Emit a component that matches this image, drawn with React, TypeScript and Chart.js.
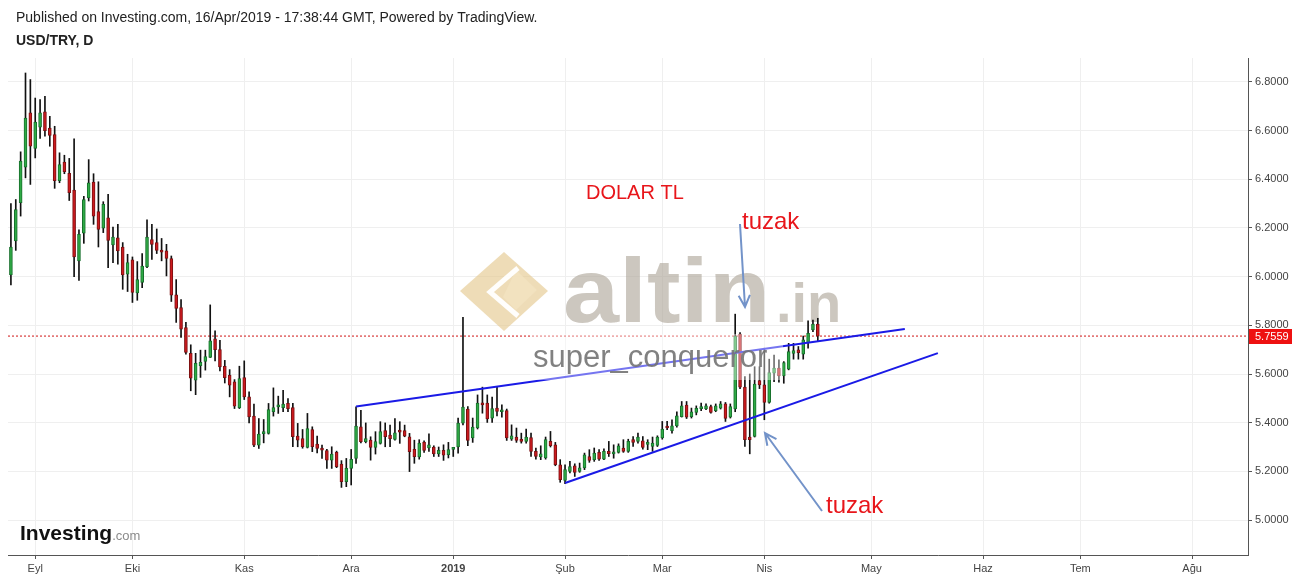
import React, { useEffect, useRef } from "react";
import { Chart, registerables } from "chart.js";
Chart.register(...registerables);

// Trading-day index of the first candle (0 = 3 Sep 2018)
const firstDay = -5;

const opens = [
  6.007, 6.147, 6.304, 6.450, 6.673, 6.527, 6.614, 6.677, 6.611, 6.584,
  6.395, 6.471, 6.425, 6.356, 6.065, 6.179, 6.324, 6.389, 6.267, 6.199,
  6.242, 6.130, 6.160, 6.122, 6.010, 6.069, 5.933, 5.976, 6.040, 6.152,
  6.140, 6.108, 6.106, 6.074, 5.925, 5.873, 5.791, 5.685, 5.575, 5.634,
  5.652, 5.668, 5.745, 5.700, 5.632, 5.595, 5.568, 5.462, 5.585, 5.506,
  5.427, 5.308, 5.355, 5.356, 5.445, 5.465, 5.462, 5.479, 5.462, 5.345,
  5.335, 5.298, 5.372, 5.312, 5.289, 5.285, 5.246, 5.278, 5.230, 5.158,
  5.212, 5.253, 5.383, 5.322, 5.328, 5.298, 5.315, 5.367, 5.349, 5.331,
  5.363, 5.367, 5.342, 5.290, 5.259, 5.320, 5.296, 5.300, 5.272, 5.286,
  5.268, 5.290, 5.300, 5.398, 5.456, 5.337, 5.378, 5.480, 5.480, 5.419,
  5.460, 5.445, 5.450, 5.332, 5.341, 5.330, 5.323, 5.339, 5.282, 5.259,
  5.255, 5.323, 5.309, 5.227, 5.163, 5.200, 5.223, 5.200, 5.214, 5.261,
  5.248, 5.278, 5.250, 5.282, 5.272, 5.278, 5.296, 5.282, 5.330, 5.323,
  5.325, 5.311, 5.302, 5.307, 5.337, 5.384, 5.367, 5.387, 5.425, 5.472,
  5.425, 5.442, 5.458, 5.456, 5.466, 5.449, 5.460, 5.477, 5.423, 5.456,
  5.764, 5.546, 5.341, 5.343, 5.573, 5.555, 5.483, 5.603, 5.624, 5.592,
  5.620, 5.685, 5.699, 5.682, 5.729, 5.781, 5.805,
];
const highs = [
  6.300, 6.317, 6.513, 6.837, 6.810, 6.734, 6.728, 6.741, 6.659, 6.618,
  6.509, 6.499, 6.486, 6.566, 6.192, 6.330, 6.481, 6.423, 6.390, 6.308,
  6.338, 6.204, 6.215, 6.140, 6.092, 6.081, 6.062, 6.095, 6.234, 6.215,
  6.196, 6.157, 6.133, 6.085, 5.988, 5.906, 5.812, 5.720, 5.685, 5.698,
  5.698, 5.884, 5.777, 5.738, 5.656, 5.618, 5.577, 5.632, 5.654, 5.527,
  5.476, 5.417, 5.413, 5.479, 5.543, 5.509, 5.533, 5.499, 5.479, 5.397,
  5.372, 5.438, 5.383, 5.345, 5.308, 5.290, 5.301, 5.283, 5.244, 5.253,
  5.290, 5.465, 5.451, 5.399, 5.342, 5.363, 5.404, 5.399, 5.390, 5.417,
  5.404, 5.390, 5.356, 5.328, 5.330, 5.325, 5.354, 5.305, 5.300, 5.309,
  5.319, 5.296, 5.419, 5.833, 5.466, 5.419, 5.514, 5.546, 5.514, 5.505,
  5.548, 5.473, 5.456, 5.391, 5.378, 5.357, 5.374, 5.357, 5.296, 5.305,
  5.341, 5.364, 5.319, 5.248, 5.227, 5.241, 5.231, 5.234, 5.275, 5.289,
  5.296, 5.289, 5.292, 5.323, 5.309, 5.313, 5.330, 5.332, 5.343, 5.357,
  5.343, 5.330, 5.341, 5.346, 5.405, 5.405, 5.412, 5.445, 5.487, 5.487,
  5.460, 5.469, 5.480, 5.477, 5.472, 5.477, 5.487, 5.483, 5.477, 5.846,
  5.770, 5.589, 5.600, 5.630, 5.630, 5.706, 5.661, 5.678, 5.658, 5.651,
  5.726, 5.726, 5.713, 5.756, 5.819, 5.822, 5.829,
];
const lows = [
  5.966, 6.108, 6.249, 6.406, 6.379, 6.488, 6.568, 6.577, 6.536, 6.363,
  6.386, 6.423, 6.313, 6.000, 5.985, 6.137, 6.311, 6.215, 6.122, 6.181,
  6.037, 6.058, 6.051, 5.948, 5.939, 5.894, 5.903, 5.955, 6.037, 6.071,
  6.095, 6.065, 6.003, 5.898, 5.812, 5.750, 5.682, 5.531, 5.515, 5.586,
  5.616, 5.668, 5.654, 5.613, 5.563, 5.506, 5.458, 5.458, 5.495, 5.399,
  5.301, 5.294, 5.317, 5.353, 5.427, 5.438, 5.445, 5.445, 5.301, 5.301,
  5.295, 5.296, 5.281, 5.276, 5.253, 5.212, 5.212, 5.215, 5.134, 5.137,
  5.144, 5.233, 5.317, 5.317, 5.246, 5.271, 5.312, 5.301, 5.301, 5.328,
  5.315, 5.342, 5.199, 5.233, 5.250, 5.278, 5.282, 5.261, 5.261, 5.245,
  5.255, 5.261, 5.275, 5.391, 5.305, 5.319, 5.374, 5.439, 5.401, 5.401,
  5.428, 5.423, 5.327, 5.327, 5.319, 5.316, 5.316, 5.261, 5.250, 5.248,
  5.250, 5.300, 5.223, 5.155, 5.149, 5.193, 5.179, 5.196, 5.207, 5.237,
  5.241, 5.245, 5.248, 5.261, 5.254, 5.275, 5.278, 5.278, 5.302, 5.316,
  5.291, 5.289, 5.282, 5.302, 5.332, 5.371, 5.357, 5.382, 5.423, 5.417,
  5.419, 5.432, 5.449, 5.453, 5.439, 5.445, 5.456, 5.405, 5.419, 5.445,
  5.540, 5.302, 5.272, 5.341, 5.540, 5.412, 5.480, 5.569, 5.566, 5.562,
  5.617, 5.661, 5.661, 5.661, 5.706, 5.774, 5.737,
];
const closes = [
  6.122, 6.276, 6.475, 6.652, 6.536, 6.635, 6.673, 6.600, 6.580, 6.395,
  6.461, 6.431, 6.345, 6.081, 6.174, 6.317, 6.386, 6.249, 6.194, 6.297,
  6.149, 6.163, 6.106, 6.007, 6.058, 5.935, 5.988, 6.044, 6.163, 6.133,
  6.108, 6.101, 6.075, 5.924, 5.870, 5.784, 5.689, 5.583, 5.644, 5.648,
  5.672, 5.736, 5.700, 5.629, 5.585, 5.554, 5.468, 5.581, 5.506, 5.424,
  5.308, 5.353, 5.358, 5.454, 5.462, 5.468, 5.476, 5.458, 5.342, 5.328,
  5.301, 5.376, 5.301, 5.294, 5.287, 5.246, 5.271, 5.219, 5.158, 5.212,
  5.249, 5.386, 5.322, 5.335, 5.298, 5.322, 5.363, 5.342, 5.334, 5.358,
  5.361, 5.345, 5.281, 5.260, 5.316, 5.286, 5.309, 5.272, 5.286, 5.266,
  5.289, 5.292, 5.398, 5.464, 5.327, 5.382, 5.480, 5.473, 5.415, 5.458,
  5.446, 5.447, 5.337, 5.346, 5.327, 5.323, 5.341, 5.282, 5.261, 5.272,
  5.330, 5.305, 5.227, 5.166, 5.207, 5.220, 5.196, 5.214, 5.268, 5.245,
  5.275, 5.250, 5.282, 5.273, 5.274, 5.305, 5.282, 5.323, 5.319, 5.341,
  5.298, 5.315, 5.316, 5.341, 5.374, 5.378, 5.387, 5.428, 5.469, 5.423,
  5.445, 5.459, 5.462, 5.469, 5.442, 5.469, 5.477, 5.417, 5.466, 5.756,
  5.546, 5.330, 5.330, 5.559, 5.555, 5.483, 5.606, 5.624, 5.592, 5.647,
  5.692, 5.696, 5.688, 5.740, 5.767, 5.805, 5.7559,
];

const monthTicks = [0, 20, 43, 65, 86, 109, 129, 150, 172, 195, 215, 238];
const monthLabels = ["Eyl", "Eki", "Kas", "Ara", "2019", "Şub", "Mar", "Nis", "May", "Haz", "Tem", "Ağu"];
const priceTicks = [5.0, 5.2, 5.4, 5.6, 5.8, 6.0, 6.2, 6.4, 6.6, 6.8];
const lastPrice = 5.7559;

// drawn trend lines (trading-day index, price)
const resistanceX = [66, 178.9];
const resistanceY = [5.466, 5.785];
const supportX = [109, 185.7];
const supportY = [5.152, 5.686];

const FONT = "'Liberation Sans', Arial, sans-serif";

const headerPlugin = {
  id: "header",
  beforeDraw(chart: any) {
    const ctx = chart.ctx;
    ctx.save();
    ctx.fillStyle = "#ffffff";
    ctx.fillRect(0, 0, chart.width, chart.height);
    ctx.restore();
  },
  afterDraw(chart: any) {
    const ctx = chart.ctx;
    ctx.save();
    ctx.textBaseline = "alphabetic";
    ctx.textAlign = "left";
    ctx.fillStyle = "#222";
    ctx.font = `14px ${FONT}`;
    ctx.fillText("Published on Investing.com, 16/Apr/2019 - 17:38:44 GMT, Powered by TradingView.", 16, 22);
    ctx.font = `bold 14px ${FONT}`;
    ctx.fillText("USD/TRY, D", 16, 45);

    // last price tag on the axis
    const y = chart.scales.y.getPixelForValue(lastPrice);
    const x0 = chart.chartArea.right + 1;
    ctx.fillStyle = "#ee1111";
    ctx.fillRect(x0, Math.round(y) - 7, 43, 15);
    ctx.fillStyle = "#ffffff";
    ctx.font = `11px ${FONT}`;
    ctx.textBaseline = "middle";
    ctx.fillText(lastPrice.toFixed(4), x0 + 6, Math.round(y) + 0.5);
    ctx.restore();
  },
};

const watermarkPlugin = {
  id: "watermark",
  beforeDatasetsDraw(chart: any) {
    const ctx = chart.ctx;
    ctx.save();
    // logo
    ctx.fillStyle = "rgba(226,196,135,0.6)";
    ctx.beginPath();
    ctx.moveTo(504, 252);
    ctx.lineTo(548, 291);
    ctx.lineTo(504, 331);
    ctx.lineTo(460, 291);
    ctx.closePath();
    ctx.fill();
    ctx.fillStyle = "rgba(242,226,192,0.9)";
    ctx.beginPath();
    ctx.moveTo(516, 270);
    ctx.lineTo(537, 290);
    ctx.lineTo(516, 310);
    ctx.lineTo(503, 297);
    ctx.closePath();
    ctx.fill();
    ctx.strokeStyle = "rgba(255,255,255,0.95)";
    ctx.lineWidth = 5;
    ctx.beginPath();
    ctx.moveTo(518, 268);
    ctx.lineTo(490, 292);
    ctx.lineTo(518, 316);
    ctx.stroke();

    // "altin.in" text
    ctx.fillStyle = "rgba(170,162,148,0.6)";
    ctx.textBaseline = "alphabetic";
    ctx.textAlign = "left";
    ctx.save();
    ctx.translate(563, 322);
    ctx.scale(1.12, 1);
    ctx.font = `bold 90px ${FONT}`;
    ctx.fillText("altin", 0, 0);
    ctx.restore();
    ctx.font = `bold 56px ${FONT}`;
    ctx.fillText(".in", 776, 322);
    ctx.restore();
  },
  afterDatasetsDraw(chart: any) {
    const ctx = chart.ctx;
    ctx.save();
    // translucent text box
    ctx.fillStyle = "rgba(255,255,255,0.4)";
    ctx.fillRect(530, 334, 253, 46);
    ctx.fillStyle = "rgba(115,115,115,0.9)";
    ctx.font = `31px ${FONT}`;
    ctx.textBaseline = "alphabetic";
    ctx.fillText("super_conqueror", 533, 367);

    // red labels
    ctx.fillStyle = "#e8161b";
    ctx.font = `20px ${FONT}`;
    ctx.fillText("DOLAR TL", 586, 199);
    ctx.font = `24px ${FONT}`;
    ctx.fillText("tuzak", 742, 229);
    ctx.fillText("tuzak", 826, 513);

    // arrows
    const arrow = (x1: number, y1: number, x2: number, y2: number) => {
      ctx.strokeStyle = "#7393c9";
      ctx.lineWidth = 2;
      ctx.beginPath();
      ctx.moveTo(x1, y1);
      ctx.lineTo(x2, y2);
      const a = Math.atan2(y2 - y1, x2 - x1);
      const L = 13;
      ctx.moveTo(x2 - L * Math.cos(a - 0.45), y2 - L * Math.sin(a - 0.45));
      ctx.lineTo(x2, y2);
      ctx.lineTo(x2 - L * Math.cos(a + 0.45), y2 - L * Math.sin(a + 0.45));
      ctx.stroke();
    };
    arrow(740, 224, 745, 307);
    arrow(822, 511, 765, 433);

    // Investing.com logo
    ctx.fillStyle = "#111";
    ctx.font = `bold 21px ${FONT}`;
    ctx.fillText("Investing", 20, 540);
    const w = ctx.measureText("Investing").width;
    ctx.fillStyle = "#8a8a8a";
    ctx.font = `13px ${FONT}`;
    ctx.fillText(".com", 20 + w, 540);
    ctx.restore();
  },
};

export default function App() {
  const ref = useRef<HTMLCanvasElement>(null);
  useEffect(() => {
    const wicks = opens.map((_, i) => ({ x: firstDay + i, y: [lows[i], highs[i]] }));
    const bodies = opens.map((o, i) => ({
      x: firstDay + i,
      y: [Math.min(o, closes[i]), Math.max(o, closes[i])],
    }));
    const up = opens.map((o, i) => closes[i] >= o);
    const xMin = -5.6;
    const xMax = 249.5;

    const chart = new Chart(ref.current as HTMLCanvasElement, {
      type: "bar",
      data: {
        datasets: [
          {
            type: "line",
            data: [
              { x: resistanceX[0], y: resistanceY[0] },
              { x: resistanceX[1], y: resistanceY[1] },
            ],
            borderColor: "#1a1ae6",
            borderWidth: 2,
            pointRadius: 0,
            order: 1,
          } as any,
          {
            type: "line",
            data: [
              { x: supportX[0], y: supportY[0] },
              { x: supportX[1], y: supportY[1] },
            ],
            borderColor: "#1a1ae6",
            borderWidth: 2,
            pointRadius: 0,
            order: 1,
          } as any,
          {
            type: "line",
            data: [
              { x: xMin, y: lastPrice },
              { x: xMax, y: lastPrice },
            ],
            borderColor: "#d01515",
            borderWidth: 1,
            borderDash: [2, 2],
            pointRadius: 0,
            order: 4,
          } as any,
          {
            type: "bar",
            data: bodies,
            backgroundColor: up.map((u) => (u ? "#2faa45" : "#cc1a1e")),
            borderColor: up.map((u) => (u ? "#17702c" : "#7a1012")),
            borderWidth: 1,
            borderSkipped: false,
            barThickness: 3,
            minBarLength: 2,
            grouped: false,
            order: 2,
          } as any,
          {
            type: "bar",
            data: wicks,
            backgroundColor: "#111111",
            borderWidth: 0,
            barThickness: 1,
            grouped: false,
            order: 3,
          } as any,
        ],
      },
      options: {
        animation: false,
        responsive: false,
        maintainAspectRatio: false,
        layout: { padding: { left: 8, top: 58, right: 0, bottom: 0 } },
        plugins: {
          legend: { display: false },
          tooltip: { enabled: false },
          title: { display: false },
        },
        scales: {
          x: {
            type: "linear",
            min: xMin,
            max: xMax,
            offset: false,
            afterBuildTicks: (s: any) => {
              s.ticks = monthTicks.map((v) => ({ value: v }));
            },
            afterFit: (s: any) => {
              s.height = 25;
            },
            grid: { color: "#efefef", tickColor: "#555", tickLength: 4, offset: false },
            border: { color: "#555", width: 1 },
            ticks: {
              autoSkip: false,
              maxRotation: 0,
              padding: 3,
              color: "#444",
              font: (c: any) => ({ size: 11, family: FONT, weight: c.index === 4 ? "bold" : "normal" }),
              callback: (_v: any, i: number) => monthLabels[i],
            },
          },
          y: {
            position: "right",
            min: 4.8562,
            max: 6.8986,
            afterBuildTicks: (s: any) => {
              s.ticks = priceTicks.map((v) => ({ value: v }));
            },
            afterFit: (s: any) => {
              s.width = 51;
            },
            grid: { color: "#efefef", tickColor: "#555", tickLength: 4 },
            border: { color: "#555", width: 1 },
            ticks: {
              padding: 3,
              color: "#444",
              font: { size: 11, family: FONT },
              callback: (v: any) => Number(v).toFixed(4),
            },
          },
        },
      } as any,
      plugins: [headerPlugin, watermarkPlugin],
    } as any);
    return () => chart.destroy();
  }, []);

  return (
    <div style={{ position: "absolute", left: 0, top: 0, width: 1299, height: 580, background: "#fff" }}>
      <canvas ref={ref} width={1299} height={580} style={{ display: "block", width: 1299, height: 580 }} />
    </div>
  );
}
